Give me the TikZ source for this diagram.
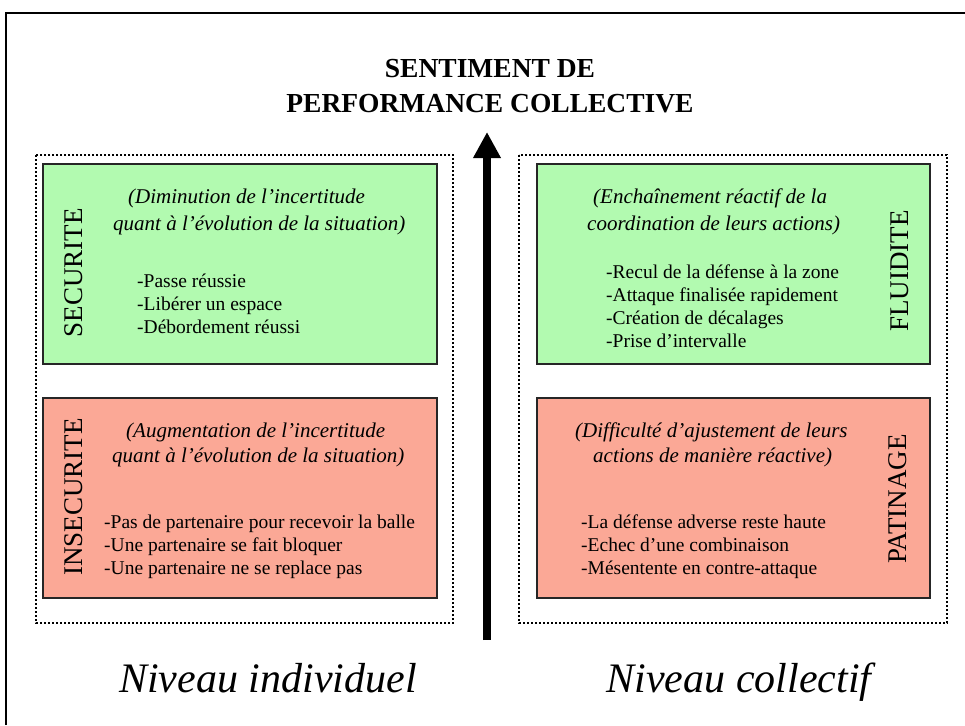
\documentclass[tikz,border=0pt]{standalone}
\usepackage{fontspec}
\setmainfont{Liberation Serif}
\usetikzlibrary{arrows.meta}
\definecolor{vertclair}{RGB}{178,250,176}
\definecolor{saumon}{RGB}{251,168,150}

\begin{document}
\begin{tikzpicture}
[x=1pt,y=-1pt,
zone/.style={line width=2pt,dash pattern=on 2pt off 2pt},
cadre/.style={draw=black!85,line width=1.2pt},
etat/.style={font=\fontsize{27}{27}\selectfont,rotate=90,inner sep=0pt},
but/.style={font=\fontsize{21}{21}\selectfont\itshape,anchor=base west,inner sep=0pt},
item/.style={font=\fontsize{19.5}{19.5}\selectfont,anchor=base west,inner sep=0pt},
titre/.style={font=\fontsize{27.5}{27.5}\selectfont\bfseries,anchor=base,inner sep=0pt},
niveau/.style={font=\fontsize{42}{42}\selectfont\itshape,anchor=base,inner sep=0pt}]
\useasboundingbox (0,0) rectangle (965,725);
\draw[line width=2pt] (6,725) -- (6,13) -- (965,13);

% titre et fleche
\node[titre] (titre1) at (490,77) {SENTIMENT DE};
\node[titre] (titre2) at (490,112) {PERFORMANCE COLLECTIVE};
\coordinate (pied) at (487,640);
\coordinate (pointe) at (487,132);
\draw[line width=8pt,-{Triangle[width=26pt,length=26pt]}] (pied) -- (pointe);

% zones en pointille
\draw[zone] (36,155) rectangle (453,623);
\draw[zone] (519,155) rectangle (947,623);

% cadres colores
\filldraw[cadre,fill=vertclair] (43,164) rectangle (437,364);
\filldraw[cadre,fill=saumon] (43,398) rectangle (437,598);
\filldraw[cadre,fill=vertclair] (537,164) rectangle (930,364);
\filldraw[cadre,fill=saumon] (537,398) rectangle (930,598);

\node[etat] (sec) at (74,273) {SECURITE};
\node[etat] (insec) at (74,497) {INSECURITE};
\node[etat] (flu) at (900,271) {FLUIDITE};
\node[etat] (pat) at (898,499) {PATINAGE};

\node[but] (sec-a) at (128,203) {(Diminution de l’incertitude};
\node[but] (sec-b) at (113,230) {quant à l’évolution de la situation)};
\foreach \t [count=\i] in {-Passe réussie,-Libérer un espace,-Débordement réussi}
  \node[item] (sec\i) at (137,{264+23*\i}) {\t};

\node[but] (insec-a) at (126,437) {(Augmentation de l’incertitude};
\node[but] (insec-b) at (112,462) {quant à l’évolution de la situation)};
\foreach \t [count=\i] in {-Pas de partenaire pour recevoir la balle,-Une partenaire se fait bloquer,-Une partenaire ne se replace pas}
  \node[item] (insec\i) at (104,{505+23*\i}) {\t};

\node[but] (flu-a) at (593,203) {(Enchaînement réactif de la};
\node[but] (flu-b) at (587,230) {coordination de leurs actions)};
\foreach \t [count=\i] in {-Recul de la défense à la zone,-Attaque finalisée rapidement,-Création de décalages,-Prise d’intervalle}
  \node[item] (flu\i) at (606,{255+23*\i}) {\t};

\node[but] (pat-a) at (575,437) {(Difficulté d’ajustement de leurs};
\node[but] (pat-b) at (593,462) {actions de manière réactive)};
\foreach \t [count=\i] in {-La défense adverse reste haute,-Echec d’une combinaison,-Mésentente en contre-attaque}
  \node[item] (pat\i) at (581,{505+23*\i}) {\t};

% niveaux
\node[niveau] (indiv) at (268,692) {Niveau individuel};
\node[niveau] (coll) at (739,692) {Niveau collectif};
\end{tikzpicture}
\end{document}
